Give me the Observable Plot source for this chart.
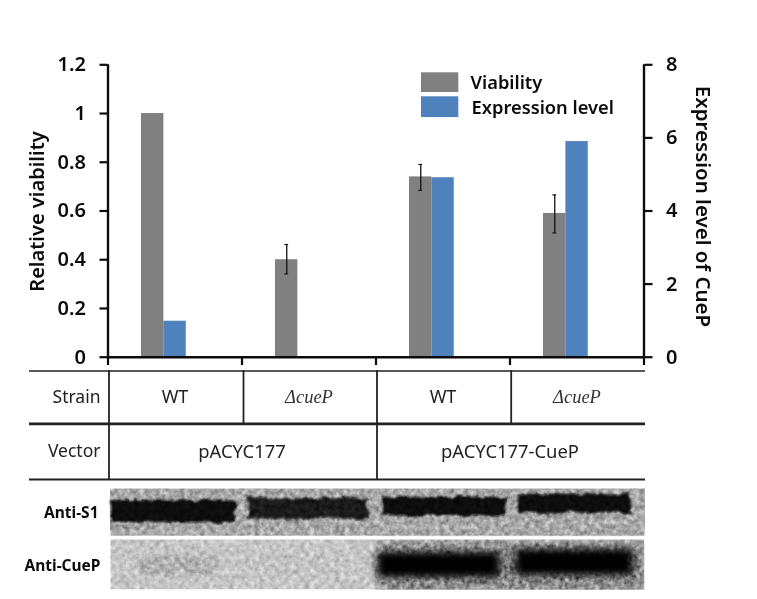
<!DOCTYPE html>
<html><head><meta charset="utf-8">
<script src="https://cdn.jsdelivr.net/npm/d3@7"></script>
<script src="https://cdn.jsdelivr.net/npm/@observablehq/plot@0.6"></script>
<style>html,body{margin:0;padding:0;background:#fff}svg{display:block}</style>
</head><body><div id="chart"></div>
<script>
const strains = ["WT", "ΔcueP", "WT", "ΔcueP"];
const viability = [1, 0.4, 0.74, 0.59];
const errLow = [null, 0.342, 0.685, 0.51];
const errHigh = [null, 0.4625, 0.791, 0.666];
const expression = [0.985, 0, 4.91, 5.9];
const leftTicks = [0, 0.2, 0.4, 0.6, 0.8, 1, 1.2];
const rightTicks = [0, 2, 4, 6, 8];
const vectors = ["pACYC177", "pACYC177-CueP"];
const s1Density = [1, 0.92, 1, 1];
const cuePDensity = [0.12, 0.02, 1, 1];

const exprToY = e => e * 1.2 / 8;
const X = px => (px - 107.5) / 134;
const Y = py => (356.7 - py) / 243.67;
const ink = "#0c0c0c";
const sans = "'Noto Sans', sans-serif";

const idx = [0, 1, 2, 3];
const grayBar = i => [i + 0.25, i + 0.417];
const blueBar = i => [i + 0.417, i + 0.584];
const withErr = idx.filter(i => errLow[i] != null);

const hLines = [[370.5, 1.6], [423.4, 2.6], [479, 1.8]];
const vLines = [[108.5, 370, 479], [243, 370, 423], [376.5, 370, 479], [510.7, 370, 423]];
const s1Boxes = [[111, 235, 500, 522], [248, 368, 498, 518.5], [383, 507, 497, 516], [517, 630, 493.5, 512.5]];
const cueBoxes = [[140, 215, 556, 574], [250, 330, 558, 572], [377, 500, 552, 577], [515, 633, 549, 575]];

const styled = (f, blend) => ({render(index, scales, values, dims, ctx, next) {
  const g = next(index, scales, values, dims, ctx);
  g.style.filter = `url(#${f})`;
  if (blend) g.style.mixBlendMode = blend;
  return g;
}});

const chart = Plot.plot({
  width: 757, height: 599,
  marginLeft: 0, marginRight: 0, marginTop: 0, marginBottom: 0,
  style: {background: "#fff", fontFamily: sans},
  x: {domain: [0, 4], range: [107.5, 643.5], axis: null},
  y: {domain: [0, 1.2], range: [356.7, 64.3], axis: null},
  marks: [
    // bars
    Plot.rect(idx, {x1: i => grayBar(i)[0], x2: i => grayBar(i)[1], y1: 0, y2: i => viability[i], fill: "#808080"}),
    Plot.rect(idx, {x1: i => blueBar(i)[0], x2: i => blueBar(i)[1], y1: 0, y2: i => exprToY(expression[i]), fill: "#4f81bd"}),
    // error bars
    Plot.ruleX(withErr, {x: i => grayBar(i)[0] + 0.084, y1: i => errLow[i], y2: i => errHigh[i], stroke: "#111", strokeWidth: 1.3}),
    Plot.ruleY(withErr, {y: i => errHigh[i], x1: i => grayBar(i)[0] + 0.07, x2: i => grayBar(i)[0] + 0.098, stroke: "#111", strokeWidth: 1.2}),
    Plot.ruleY(withErr, {y: i => errLow[i], x1: i => grayBar(i)[0] + 0.07, x2: i => grayBar(i)[0] + 0.098, stroke: "#111", strokeWidth: 1.2}),
    // axes
    Plot.ruleY([0], {x1: 0, x2: 4, stroke: ink, strokeWidth: 2.4}),
    Plot.ruleX([0, 4], {y1: 0, y2: 1.2, stroke: ink, strokeWidth: 2.4}),
    Plot.axisY(leftTicks, {anchor: "left", x: 0, tickSize: 8, tickPadding: 14, strokeWidth: 2.2, stroke: ink, fontSize: 20, fontWeight: 600, fill: ink, label: null, tickFormat: d => String(d)}),
    Plot.axisY(rightTicks.map(exprToY), {anchor: "right", x: 4, tickSize: 8, tickPadding: 14, strokeWidth: 2.2, stroke: ink, fontSize: 20, fontWeight: 600, fill: ink, label: null, tickFormat: (d, i) => String(rightTicks[i])}),
    Plot.ruleX([0, 1, 2, 3, 4], {y1: 0, y2: Y(365), stroke: ink, strokeWidth: 2.2}),
    Plot.text(["Relative viability"], {x: X(37), y: Y(211), rotate: -90, fontSize: 20, fontWeight: 600, fill: ink}),
    Plot.text(["Expression level of CueP"], {x: X(702), y: Y(206), rotate: 90, fontSize: 20.5, fontWeight: 600, fill: ink}),
    // legend
    Plot.rect([0], {x1: X(421), x2: X(458.3), y1: Y(92), y2: Y(72.3), fill: "#808080"}),
    Plot.rect([0], {x1: X(421), x2: X(458.3), y1: Y(117), y2: Y(96.3), fill: "#4f81bd"}),
    Plot.text(["Viability"], {x: X(470), y: Y(83), textAnchor: "start", fontSize: 18.3, fontWeight: 600, fill: ink}),
    Plot.text(["Expression level"], {x: X(471), y: Y(108), textAnchor: "start", fontSize: 18.3, fontWeight: 600, fill: ink}),
    // table
    ...hLines.map(([py, w]) => Plot.ruleY([Y(py)], {x1: X(29), x2: X(645), stroke: "#222", strokeWidth: w})),
    Plot.ruleX(vLines, {x: d => X(d[0]), y1: d => Y(d[1]), y2: d => Y(d[2]), stroke: "#222", strokeWidth: 1.8}),
    Plot.text(["Strain"], {x: X(100), y: Y(397), textAnchor: "end", fontSize: 17.5, fill: "#222"}),
    Plot.text(["Vector"], {x: X(100), y: Y(451), textAnchor: "end", fontSize: 17.5, fill: "#222"}),
    Plot.text(idx.filter(i => strains[i] === "WT"), {x: i => i + 0.5, y: Y(397), text: i => strains[i], fontSize: 18, fill: "#222"}),
    Plot.text(idx.filter(i => strains[i] !== "WT"), {x: i => i + 0.5, y: Y(397), text: i => strains[i], fontSize: 18.5, fontStyle: "italic", fontFamily: "'Liberation Serif', serif", fill: "#333"}),
    Plot.text(vectors, {x: (d, i) => i * 2 + 1, y: Y(452), fontSize: 18.4, fill: "#222"}),
    // blots
    Plot.rect([0], {x1: X(110), x2: X(645), y1: Y(535.7), y2: Y(488.5), fill: "#a8a8a8"}),
    Plot.rect([0], {x1: X(110), x2: X(644), y1: Y(589.3), y2: Y(539), fill: "#c6c6c6"}),
    Plot.rect([0], {x1: X(378), x2: X(644), y1: Y(594), y2: Y(541), fill: "#8a8a8a", ...styled("soft")}),
    Plot.rect(idx, {x1: i => X(s1Boxes[i][0]), x2: i => X(s1Boxes[i][1]), y1: i => Y(s1Boxes[i][3]), y2: i => Y(s1Boxes[i][2]), fill: "#0c0c0c", fillOpacity: i => s1Density[i], ...styled("edge")}),
    Plot.rect(idx, {x1: i => X(cueBoxes[i][0]), x2: i => X(cueBoxes[i][1]), y1: i => Y(cueBoxes[i][3]), y2: i => Y(cueBoxes[i][2]), fill: "#030303", fillOpacity: i => cuePDensity[i], ...styled("glow")}),
    Plot.rect([0], {x1: X(110), x2: X(645), y1: Y(535.7), y2: Y(488.5), fill: "#888", ...styled("grain", "overlay")}),
    Plot.rect([0], {x1: X(110), x2: X(644), y1: Y(589.3), y2: Y(539), fill: "#888", ...styled("grain", "overlay")}),
    Plot.ruleY([Y(537.4)], {x1: X(108), x2: X(646), stroke: "#fff", strokeWidth: 3}),
    Plot.ruleY([Y(595)], {x1: X(100), x2: X(670), stroke: "#fff", strokeWidth: 11.4}),
    Plot.ruleX([X(651)], {y1: Y(530), y2: Y(599), stroke: "#fff", strokeWidth: 14}),
    Plot.ruleX([X(107.5)], {y1: Y(530), y2: Y(597), stroke: "#fff", strokeWidth: 5}),
    Plot.text(["Anti-S1"], {x: X(98), y: Y(513), textAnchor: "end", fontSize: 15.5, fontWeight: 700, fill: ink}),
    Plot.text(["Anti-CueP"], {x: X(100), y: Y(566), textAnchor: "end", fontSize: 15.5, fontWeight: 700, fill: ink})
  ]
});

const defs = d3.select(chart).insert("defs", ":first-child");
const edge = defs.append("filter").attr("id", "edge").attr("x", "-10%").attr("y", "-40%").attr("width", "120%").attr("height", "180%");
edge.append("feTurbulence").attr("type", "fractalNoise").attr("baseFrequency", 0.09).attr("numOctaves", 2).attr("seed", 4).attr("result", "n");
edge.append("feDisplacementMap").attr("in", "SourceGraphic").attr("in2", "n").attr("scale", 7).attr("result", "d");
edge.append("feGaussianBlur").attr("in", "d").attr("stdDeviation", 0.8);
const glow = defs.append("filter").attr("id", "glow").attr("x", "-15%").attr("y", "-60%").attr("width", "130%").attr("height", "220%");
glow.append("feGaussianBlur").attr("stdDeviation", "4.5 3.5");
const grain = defs.append("filter").attr("id", "grain").attr("x", "0").attr("y", "0").attr("width", "100%").attr("height", "100%").attr("color-interpolation-filters", "sRGB");
grain.append("feTurbulence").attr("type", "fractalNoise").attr("baseFrequency", 0.2).attr("numOctaves", 3).attr("seed", 8);
grain.append("feColorMatrix").attr("values", "0.55 0.55 0 0 -0.05  0.55 0.55 0 0 -0.05  0.55 0.55 0 0 -0.05  0 0 0 0 1");
const soft = defs.append("filter").attr("id", "soft").attr("x", "-5%").attr("y", "-20%").attr("width", "110%").attr("height", "140%");
soft.append("feGaussianBlur").attr("stdDeviation", 4);

document.getElementById("chart").appendChild(chart);
</script></body></html>
